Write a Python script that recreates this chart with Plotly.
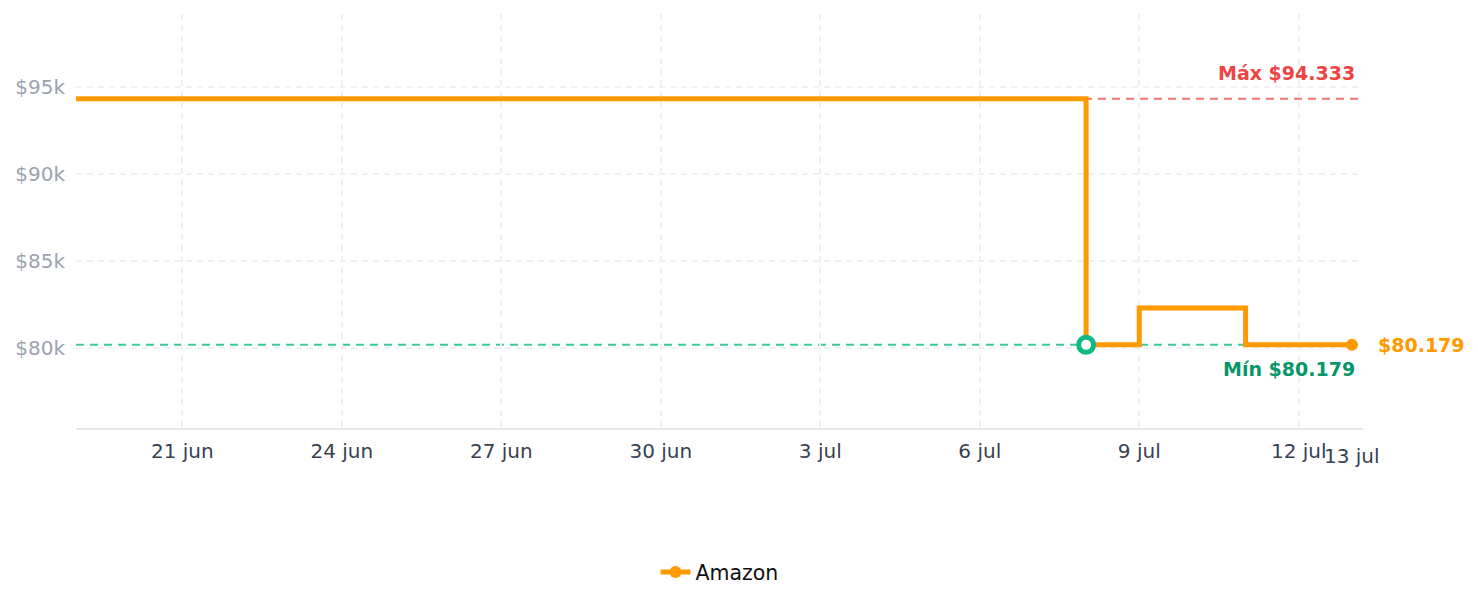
import plotly.graph_objects as go

# ---- data ----
dates = ["2025-06-19", "2025-07-08", "2025-07-09", "2025-07-11", "2025-07-13"]
prices = [94333, 80179, 82299, 80179, 80179]
series_name = "Amazon"

x_tick_vals = ["2025-06-21", "2025-06-24", "2025-06-27", "2025-06-30",
               "2025-07-03", "2025-07-06", "2025-07-09", "2025-07-12"]
x_tick_text = ["21 jun", "24 jun", "27 jun", "30 jun", "3 jul", "6 jul", "9 jul", "12 jul"]
y_tick_vals = [80000, 85000, 90000, 95000]
y_tick_text = ["$80k", "$85k", "$90k", "$95k"]
last_label = "13 jul"


def fmt(v):
    return "$" + f"{v:,}".replace(",", ".")


pmax = max(prices)
pmin = min(prices)
imin = prices.index(pmin)

ORANGE = "#ff9900"
FONT = "DejaVu Sans"
GRID = "#f1f1f3"

fig = go.Figure()

fig.add_trace(go.Scatter(
    x=dates, y=prices, name=series_name, mode="lines",
    line=dict(color=ORANGE, width=5, shape="hv"),
    showlegend=False,
))
# last point marker
fig.add_trace(go.Scatter(
    x=[dates[-1]], y=[prices[-1]], mode="markers", showlegend=False,
    marker=dict(size=12, color=ORANGE),
))
# legend entry
fig.add_trace(go.Scatter(
    x=[None], y=[None], name=series_name, mode="lines+markers",
    line=dict(color=ORANGE, width=5), marker=dict(size=12, color=ORANGE),
))
# min marker
fig.add_trace(go.Scatter(
    x=[dates[imin]], y=[pmin], mode="markers", showlegend=False,
    marker=dict(size=15, color="white", line=dict(color="#10b981", width=5)),
))

fig.add_shape(type="line", xref="paper", x0=0, x1=1, y0=pmax, y1=pmax,
              line=dict(color="rgba(239,68,68,0.75)", width=2, dash="8px,6px"), layer="below")
fig.add_shape(type="line", xref="paper", x0=0, x1=1, y0=pmin, y1=pmin,
              line=dict(color="rgba(16,185,129,0.8)", width=2, dash="8px,6px"), layer="below")

fig.add_annotation(xref="paper", x=1, y=pmax, xanchor="right", yanchor="bottom",
                   xshift=-6, yshift=13, showarrow=False, text="<b>Máx " + fmt(pmax) + "</b>",
                   font=dict(family=FONT, size=19, color="#ef4444"))
fig.add_annotation(xref="paper", x=1, y=pmin, xanchor="right", yanchor="top",
                   xshift=-6, yshift=-11, showarrow=False, text="<b>Mín " + fmt(pmin) + "</b>",
                   font=dict(family=FONT, size=19, color="#059669"))
fig.add_annotation(x=dates[-1], y=prices[-1], xanchor="left", yanchor="middle",
                   xshift=24, showarrow=False, text="<b>" + fmt(prices[-1]) + "</b>",
                   font=dict(family=FONT, size=19, color=ORANGE))
fig.add_annotation(x=dates[-1], yref="paper", y=0, xanchor="center", yanchor="top",
                   yshift=-14, showarrow=False, text=last_label,
                   font=dict(family=FONT, size=20, color="#374151"))

fig.update_layout(
    width=1478, height=607,
    margin=dict(l=76, r=115, t=14, b=179),
    paper_bgcolor="white", plot_bgcolor="white",
    font=dict(family=FONT, size=20),
    legend=dict(orientation="h", x=0.5, xanchor="center", y=-0.348, yanchor="middle",
                font=dict(family=FONT, size=20.5, color="#111111")),
    xaxis=dict(
        range=["2025-06-19", "2025-07-13 05:00"],
        tickvals=x_tick_vals, ticktext=x_tick_text,
        tickfont=dict(family=FONT, size=20, color="#374151"),
        showgrid=True, gridcolor=GRID, griddash="6px,5px", gridwidth=2,
        showline=True, linecolor="#e5e7eb", linewidth=2,
        zeroline=False, ticks="", ticklabelstandoff=4,
    ),
    yaxis=dict(
        range=[75400, 99200],
        tickvals=y_tick_vals, ticktext=y_tick_text,
        tickfont=dict(family=FONT, size=20, color="#9ca3af"),
        showgrid=True, gridcolor=GRID, griddash="6px,5px", gridwidth=2,
        zeroline=False, showline=False, ticks="", ticklabelstandoff=10,
    ),
)

fig.write_html("out.html")
